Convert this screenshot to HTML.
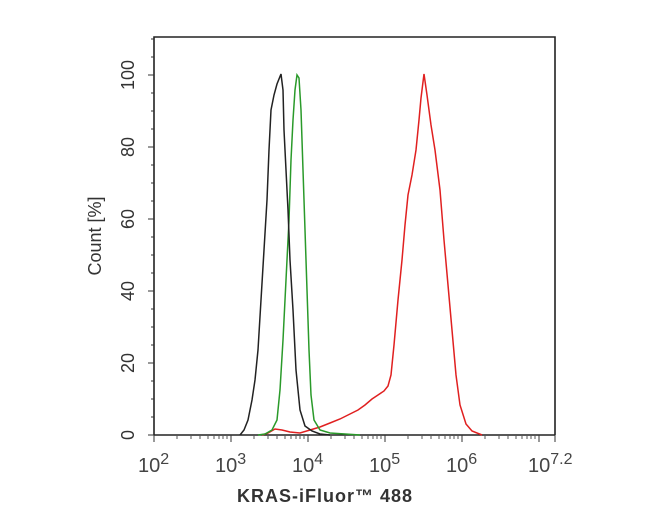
<!DOCTYPE html>
<html><head><meta charset="utf-8"><style>body{margin:0;background:#fff}svg{display:block}</style></head><body>
<svg width="650" height="520" xmlns="http://www.w3.org/2000/svg" font-family="Liberation Sans, sans-serif">
<rect width="650" height="520" fill="#fff"/>
<path d="M154,435 V37 H555 V435" fill="none" stroke="#222" stroke-width="1.6"/>
<line x1="154" y1="435" x2="555" y2="435" stroke="#222" stroke-width="1.6"/>
<g stroke="#333" stroke-width="1">
<line x1="148" y1="435" x2="154" y2="435"/><line x1="148" y1="363" x2="154" y2="363"/><line x1="148" y1="291" x2="154" y2="291"/><line x1="148" y1="219" x2="154" y2="219"/><line x1="148" y1="147" x2="154" y2="147"/><line x1="148" y1="75" x2="154" y2="75"/>
<line x1="151" y1="417" x2="154" y2="417"/><line x1="151" y1="399" x2="154" y2="399"/><line x1="151" y1="381" x2="154" y2="381"/><line x1="151" y1="345" x2="154" y2="345"/><line x1="151" y1="327" x2="154" y2="327"/><line x1="151" y1="309" x2="154" y2="309"/><line x1="151" y1="273" x2="154" y2="273"/><line x1="151" y1="255" x2="154" y2="255"/><line x1="151" y1="237" x2="154" y2="237"/><line x1="151" y1="201" x2="154" y2="201"/><line x1="151" y1="183" x2="154" y2="183"/><line x1="151" y1="165" x2="154" y2="165"/><line x1="151" y1="129" x2="154" y2="129"/><line x1="151" y1="111" x2="154" y2="111"/><line x1="151" y1="93" x2="154" y2="93"/><line x1="151" y1="57" x2="154" y2="57"/><line x1="151" y1="39" x2="154" y2="39"/>
<line x1="154" y1="435" x2="154" y2="442"/><line x1="231" y1="435" x2="231" y2="442"/><line x1="308" y1="435" x2="308" y2="442"/><line x1="385" y1="435" x2="385" y2="442"/><line x1="462" y1="435" x2="462" y2="442"/><line x1="539" y1="435" x2="539" y2="442"/><line x1="555" y1="435" x2="555" y2="442"/>
</g>
<g stroke="#555" stroke-width="1">
<path d="M177,435v4M191,435v4M200,435v4M208,435v4M214,435v4M219,435v4M223,435v4M227,435v4
M254,435v4M268,435v4M277,435v4M285,435v4M291,435v4M296,435v4M300,435v4M304,435v4
M331,435v4M345,435v4M354,435v4M362,435v4M368,435v4M373,435v4M377,435v4M381,435v4
M408,435v4M422,435v4M431,435v4M439,435v4M445,435v4M450,435v4M454,435v4M458,435v4
M485,435v4M499,435v4M508,435v4M516,435v4M522,435v4M527,435v4M531,435v4M535,435v4"/>
</g>
<g font-size="18" fill="#333" text-anchor="middle">
<text transform="translate(128,435) rotate(-90)" dy="6">0</text>
<text transform="translate(128,363) rotate(-90)" dy="6">20</text>
<text transform="translate(128,291) rotate(-90)" dy="6">40</text>
<text transform="translate(128,219) rotate(-90)" dy="6">60</text>
<text transform="translate(128,147) rotate(-90)" dy="6">80</text>
<text transform="translate(128,75) rotate(-90)" dy="6">100</text>
<text transform="translate(95,236) rotate(-90)" dy="6" font-size="18">Count [%]</text>
</g>
<g font-size="20" fill="#444">
<text x="138" y="472">10<tspan dy="-8" font-size="16">2</tspan></text>
<text x="215" y="472">10<tspan dy="-8" font-size="16">3</tspan></text>
<text x="292" y="472">10<tspan dy="-8" font-size="16">4</tspan></text>
<text x="369" y="472">10<tspan dy="-8" font-size="16">5</tspan></text>
<text x="446" y="472">10<tspan dy="-8" font-size="16">6</tspan></text>
<text x="528" y="472">10<tspan dy="-8" font-size="16">7.2</tspan></text>
</g>
<text x="237" y="502" font-size="18" font-weight="bold" fill="#333" textLength="175">KRAS-iFluor™ 488</text>
<polyline fill="none" stroke="#e02020" stroke-width="1.5" points="262,435 268,433 275,429 282,430 290,432 300,433 310,430 320,427 330,423 340,419 350,414 358,410 365,405 372,399 378,395 384,391 388,386 391,375 394,345 398,300 402,260 405,225 408,195 412,175 416,150 419,120 421,98 424,74 427,95 431,125 435,150 440,190 444,240 448,285 452,330 456,375 460,405 466,424 472,431 482,435"/>
<polyline fill="none" stroke="#2a9a2a" stroke-width="1.5" points="258,435 265,434 272,430 277,420 280,390 283,340 286,280 289,220 291,160 293,120 295,90 297,75 299,78 301,110 303,170 305,230 307,290 309,350 311,395 314,420 320,430 330,433 345,434 360,435"/>
<polyline fill="none" stroke="#222" stroke-width="1.5" points="240,435 244,430 248,420 252,400 255,380 258,350 261,300 264,250 267,200 269,150 271,110 274,95 277,84 281,74 283,90 284,130 286,170 288,210 290,260 293,310 296,370 300,410 305,426 312,431 320,434 330,435"/>
</svg>
</body></html>
